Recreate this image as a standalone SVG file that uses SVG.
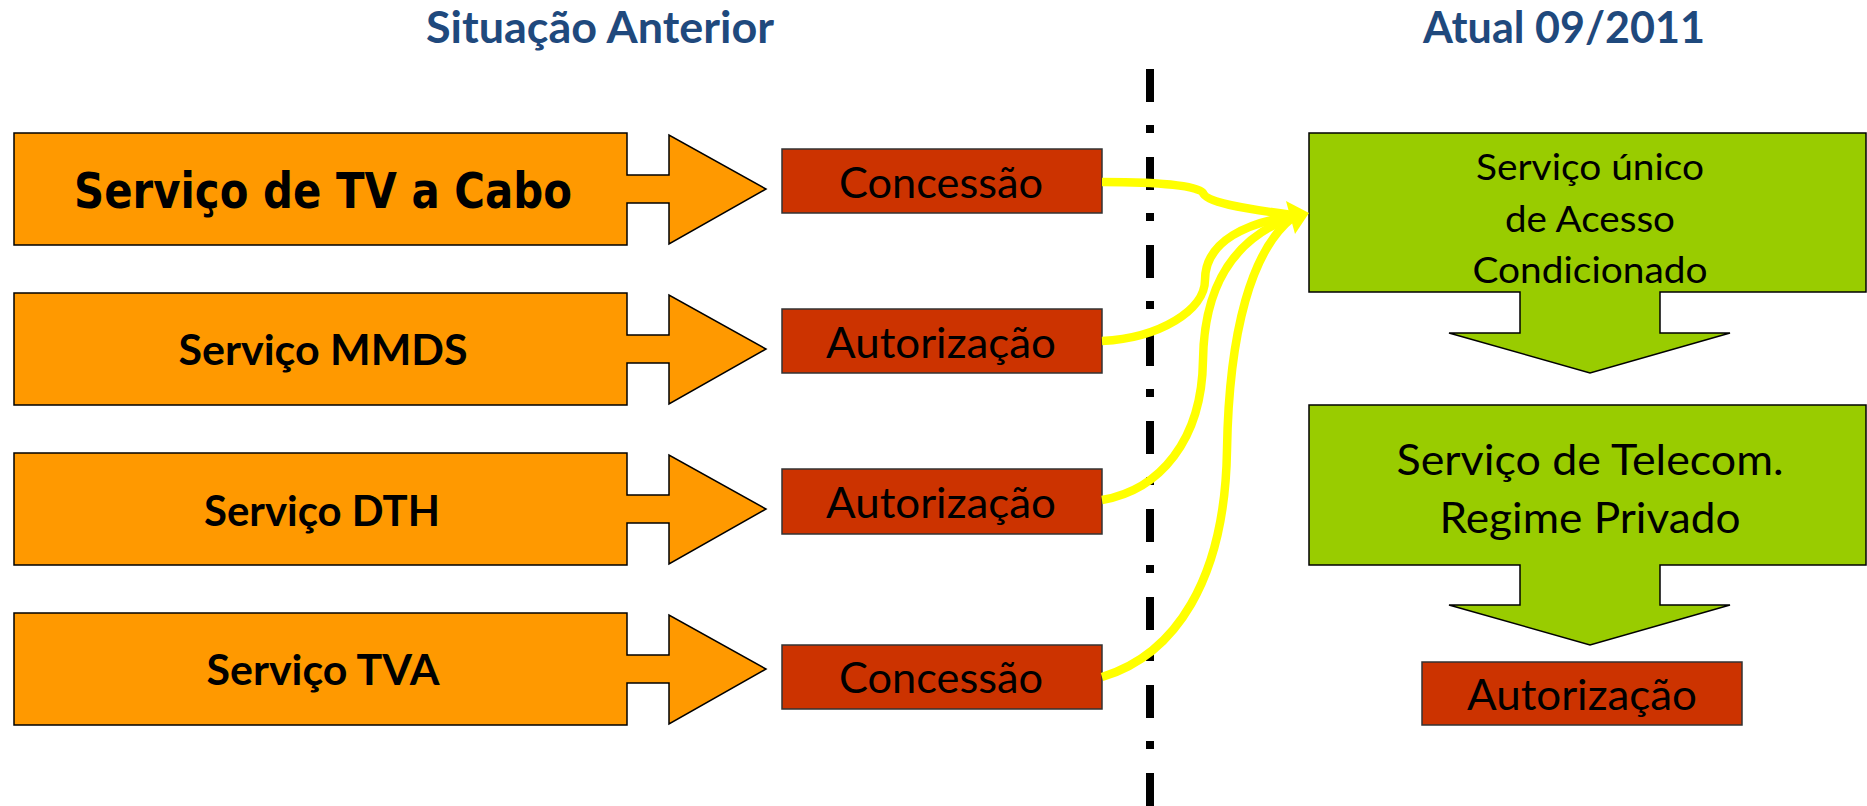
<svg xmlns="http://www.w3.org/2000/svg" width="1867" height="806" viewBox="0 0 1867 806">
<style>
.title{font-family:Lato,"Liberation Sans",sans-serif;font-weight:bold;font-size:43px;fill:#1F497D;text-anchor:middle}
.orange{fill:#FF9900;stroke:#000;stroke-width:1.5}
.red{fill:#CC3300;stroke:#333;stroke-width:1.5}
.green{fill:#99CC00;stroke:#000;stroke-width:1.5}
.lbl{font-family:Lato,"Liberation Sans",sans-serif;font-weight:bold;font-size:42px;fill:#000;text-anchor:middle}
.big{font-family:"DejaVu Sans",Verdana,sans-serif;font-weight:bold;font-size:50px;fill:#000;text-anchor:middle}
.txt{font-family:Lato,"Liberation Sans",sans-serif;font-size:42px;fill:#000;text-anchor:middle}
.gtxt{font-family:Lato,"Liberation Sans",sans-serif;font-size:37px;fill:#000;text-anchor:middle}
.conn{fill:none;stroke:#FFFF00;stroke-width:8.5;stroke-linecap:butt}
</style>
<defs>
<path id="oarrow" d="M0,0 H613 V42 H655 V2 L752,56 L655,111 V70 H613 V112 H0 Z"/>
</defs>

<text class="title" x="600" y="43" textLength="348" lengthAdjust="spacingAndGlyphs">Situação Anterior</text>
<text class="title" x="1564" y="43" textLength="282" lengthAdjust="spacingAndGlyphs">Atual 09/2011</text>

<line x1="1150" y1="69" x2="1150" y2="806" stroke="#000" stroke-width="8" stroke-dasharray="33 23 8 24"/>

<g id="row1">
<use href="#oarrow" x="14" y="133" class="orange"/>
<text class="big" x="323" y="208" textLength="498" lengthAdjust="spacingAndGlyphs">Serviço de TV a Cabo</text>
</g>
<g id="row2">
<use href="#oarrow" x="14" y="293" class="orange"/>
<text class="lbl" x="323" y="365" textLength="289" lengthAdjust="spacingAndGlyphs">Serviço MMDS</text>
</g>
<g id="row3">
<use href="#oarrow" x="14" y="453" class="orange"/>
<text class="lbl" x="322" y="526" textLength="236" lengthAdjust="spacingAndGlyphs">Serviço DTH</text>
</g>
<g id="row4">
<use href="#oarrow" x="14" y="613" class="orange"/>
<text class="lbl" x="323" y="685" textLength="233" lengthAdjust="spacingAndGlyphs">Serviço TVA</text>
</g>

<g id="box1">
<rect class="red" x="782" y="149" width="320" height="64"/>
<text class="txt" x="941" y="198" textLength="204" lengthAdjust="spacingAndGlyphs">Concessão</text>
</g>
<g id="box2">
<rect class="red" x="782" y="309" width="320" height="64"/>
<text class="txt" x="941" y="358" textLength="230" lengthAdjust="spacingAndGlyphs">Autorização</text>
</g>
<g id="box3">
<rect class="red" x="782" y="469" width="320" height="65"/>
<text class="txt" x="941" y="518" textLength="230" lengthAdjust="spacingAndGlyphs">Autorização</text>
</g>
<g id="box4">
<rect class="red" x="782" y="645" width="320" height="64"/>
<text class="txt" x="941" y="693" textLength="204" lengthAdjust="spacingAndGlyphs">Concessão</text>
</g>

<g id="green1">
<path class="green" d="M1309,133 H1866 V292 H1660 V333 H1730 L1590,373 L1449,333 H1520 V292 H1309 Z"/>
<text class="gtxt" x="1590" y="180" textLength="228" lengthAdjust="spacingAndGlyphs">Serviço único</text>
<text class="gtxt" x="1590" y="232" textLength="170" lengthAdjust="spacingAndGlyphs">de Acesso</text>
<text class="gtxt" x="1590" y="283" textLength="235" lengthAdjust="spacingAndGlyphs">Condicionado</text>
</g>
<g id="green2">
<path class="green" d="M1309,405 H1866 V565 H1660 V605 H1730 L1590,645 L1449,605 H1520 V565 H1309 Z"/>
<text class="txt" x="1590" y="475" textLength="387" lengthAdjust="spacingAndGlyphs">Serviço de Telecom.</text>
<text class="txt" x="1590" y="533" textLength="301" lengthAdjust="spacingAndGlyphs">Regime Privado</text>
</g>
<g id="box5">
<rect class="red" x="1422" y="662" width="320" height="63"/>
<text class="txt" x="1582" y="710" textLength="230" lengthAdjust="spacingAndGlyphs">Autorização</text>
</g>

<g id="connectors">
<path class="conn" d="M1102,182 C1160,182 1200,186 1203,193 C1206,202 1240,208 1292,215"/>
<path class="conn" d="M1102,341 C1160,338 1205,310 1205,280 C1205,240 1250,222 1292,216"/>
<path class="conn" d="M1102,500 C1160,490 1202,440 1203,360 C1204,290 1230,240 1292,217"/>
<path class="conn" d="M1102,677 C1175,655 1225,580 1227,450 C1229,330 1252,250 1292,218"/>
<polygon points="1286,201 1309,213 1295,234" fill="#FFFF00"/>
</g>
</svg>
